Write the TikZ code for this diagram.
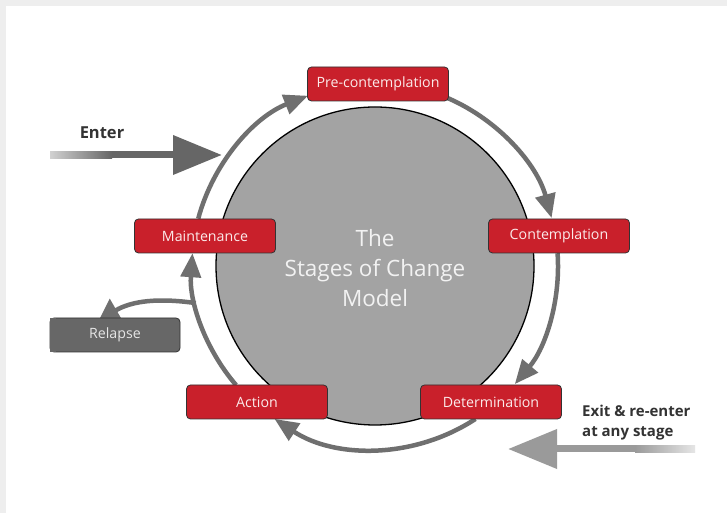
\documentclass[tikz,border=0pt]{standalone}
\usepackage{fontspec}
\setmainfont{Open Sans}
\usetikzlibrary{arrows.meta,calc}
\definecolor{stagered}{HTML}{C9202B}
\definecolor{stagetext}{HTML}{FBEAEA}
\definecolor{ringgrey}{HTML}{6F6F6F}
\definecolor{discgrey}{HTML}{A3A3A3}
\definecolor{relapsegrey}{HTML}{676767}
\definecolor{entergrey}{HTML}{666666}
\definecolor{exitgrey}{HTML}{9A9A9A}
\definecolor{labelgrey}{HTML}{333333}
\definecolor{framegrey}{HTML}{EEEEEE}
\begin{document}
\begin{tikzpicture}[x=1pt, y=1pt,
  stage node/.style={rectangle, rounded corners=4pt, draw=black!80, line width=0.8pt, fill=stagered, text=stagetext, minimum width=141pt, minimum height=34pt, inner sep=0pt, font=\fontsize{14.2}{16}\selectfont},
  ring arrow/.style={ringgrey, line width=4.5pt, -{Triangle[length=24pt,width=20pt]}},
  side arrow/.style={line width=7pt, -{Triangle[length=49pt,width=38pt]}},
  side label/.style={text=labelgrey, font=\bfseries\fontsize{15}{20}\selectfont, inner sep=0pt}]
% frame
\fill[framegrey] (0,0) rectangle (727,513);
\fill[white] (6,0) rectangle (727,507);
\useasboundingbox (0,0) rectangle (727,513);
% disc
\coordinate (centre) at (375,247);
\def\ringr{183}
\fill[discgrey] (centre) circle[radius=159];
\draw[black, line width=1.3pt] (centre) circle[radius=159];
\node[text=white!95!black, align=center, font=\fontsize{22.5}{30}\selectfont] (title) at (375,245) {The\\Stages of Change\\Model};
% ring
\coordinate (maintenance out) at ($(centre)+(165:\ringr)$);
\coordinate (pre out) at ($(centre)+(66.5:\ringr)$);
\coordinate (contemplation out) at ($(centre)+(4:\ringr)$);
\coordinate (determination out) at ($(centre)+(-56.7:\ringr)$);
\coordinate (action out) at ($(centre)+(220.6:\ringr)$);
\coordinate (relapse out) at ($(centre)+(191.7:\ringr)$);
\coordinate (relapse tip) at (99,193);
\draw[ring arrow] (maintenance out) arc[start angle=165, end angle=111.5, radius=\ringr];
\draw[ring arrow] (pre out) arc[start angle=66.5, end angle=15.2, radius=\ringr];
\draw[ring arrow] (contemplation out) arc[start angle=4, end angle=-40.2, radius=\ringr];
\draw[ring arrow] (determination out) arc[start angle=-56.7, end angle=-123.3, radius=\ringr];
\draw[ring arrow] (action out) arc[start angle=220.6, end angle=176, radius=\ringr];
\draw[ringgrey, line width=4.5pt, -{Triangle[length=20pt,width=25pt]}] (relapse out) to[out=172, in=30] (relapse tip);
% stages
\node[stage node] (pre) at (378,429) {Pre-contemplation};
\node[stage node] (contemplation) at (559,277) {Contemplation};
\node[stage node] (determination) at (491,111) {Determination};
\node[stage node] (action) at (257,111) {Action};
\node[stage node] (maintenance) at (205,277) {Maintenance};
\node[stage node, fill=relapsegrey, text=white!90!black, minimum width=130pt] (relapse) at (115,178) {Relapse};
\fill[relapsegrey] (relapse.south west) rectangle ([xshift=6pt]relapse.north west);
% enter and exit
\coordinate (enter start) at (50,358);
\coordinate (enter tip) at (222,358);
\draw[side arrow, entergrey] (enter start) -- (enter tip);
\shade[left color=entergrey!30, right color=entergrey] ($(enter start)+(0,-3.5)$) rectangle ($(enter start)+(62,3.5)$);
\node[side label, font=\bfseries\fontsize{16.5}{20}\selectfont] (enter label) at (102,380) {Enter};
\coordinate (exit start) at (695,64);
\coordinate (exit tip) at (508,64);
\draw[side arrow, exitgrey] (exit start) -- (exit tip);
\shade[left color=exitgrey, right color=exitgrey!25] ($(exit start)+(-60,-3.5)$) rectangle ($(exit start)+(0,3.5)$);
\node[side label, anchor=west, align=left] (exit label) at (582,90) {Exit \& re-enter\\at any stage};
\end{tikzpicture}
\end{document}
